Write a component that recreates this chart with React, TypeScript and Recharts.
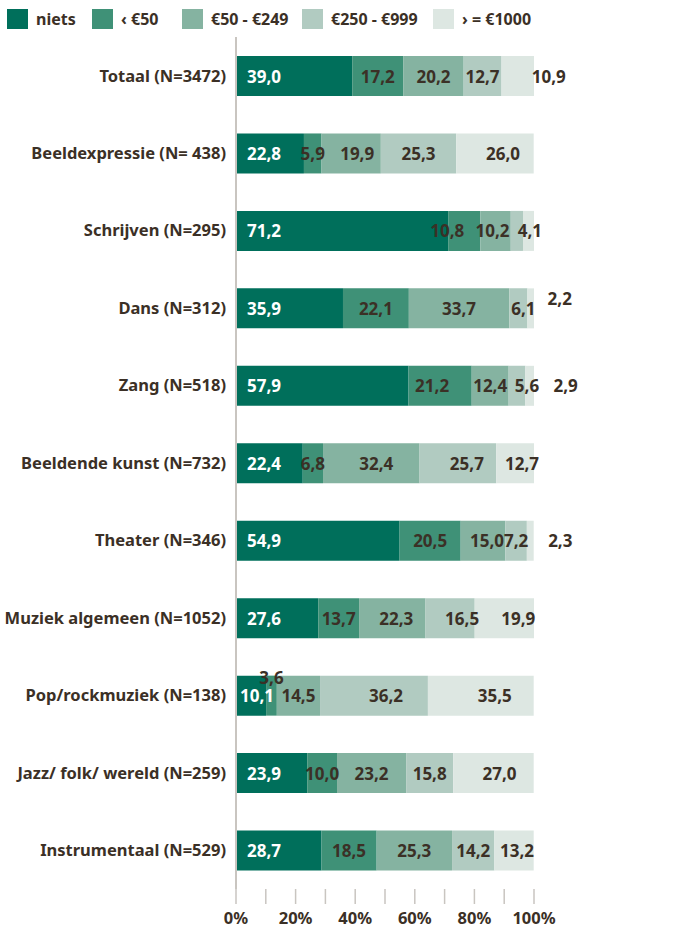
import { Bar, BarChart, LabelList, XAxis, YAxis } from 'recharts';

const categories = [
  'Totaal (N=3472)',
  'Beeldexpressie (N= 438)',
  'Schrijven (N=295)',
  'Dans (N=312)',
  'Zang (N=518)',
  'Beeldende kunst (N=732)',
  'Theater (N=346)',
  'Muziek algemeen (N=1052)',
  'Pop/rockmuziek (N=138)',
  'Jazz/ folk/ wereld (N=259)',
  'Instrumentaal (N=529)',
];

const niets = [39.0, 22.8, 71.2, 35.9, 57.9, 22.4, 54.9, 27.6, 10.1, 23.9, 28.7];
const under50 = [17.2, 5.9, 10.8, 22.1, 21.2, 6.8, 20.5, 13.7, 3.6, 10.0, 18.5];
const from50 = [20.2, 19.9, 10.2, 33.7, 12.4, 32.4, 15.0, 22.3, 14.5, 23.2, 25.3];
const from250 = [12.7, 25.3, 4.1, 6.1, 5.6, 25.7, 7.2, 16.5, 36.2, 15.8, 14.2];
const from1000 = [10.9, 26.0, 3.7, 2.2, 2.9, 12.7, 2.3, 19.9, 35.5, 27.0, 13.2];

const xTicks = [0, 10, 20, 30, 40, 50, 60, 70, 80, 90, 100];

const series = [
  { key: 'niets', label: 'niets', color: '#006f5b', values: niets },
  { key: 'under50', label: '‹ €50', color: '#3f9177', values: under50 },
  { key: 'from50', label: '€50 - €249', color: '#85b3a1', values: from50 },
  { key: 'from250', label: '€250 - €999', color: '#b1cbc1', values: from250 },
  { key: 'from1000', label: '› = €1000', color: '#dde7e2', values: from1000 },
];

const legendX = [7, 92, 182, 302, 433];

// manual label nudges, like the hand-placed labels in the original
const labelShift: Record<string, { dx?: number; dy?: number; hide?: boolean }> = {
  '0-4': { dx: 31 },
  '1-2': { dx: 6 },
  '1-4': { dx: 8 },
  '2-1': { dx: -17 },
  '2-2': { dx: -3 },
  '2-3': { dx: 13 },
  '2-4': { hide: true },
  '3-3': { dx: 5 },
  '3-4': { dx: 29, dy: -10 },
  '4-1': { dx: -8 },
  '4-3': { dx: 10 },
  '4-4': { dx: 36 },
  '5-2': { dx: 5 },
  '5-3': { dx: 9 },
  '5-4': { dx: 7 },
  '6-2': { dx: 4 },
  '6-4': { dx: 30 },
  '7-2': { dx: 4 },
  '7-3': { dx: 12 },
  '7-4': { dx: 14 },
  '8-0': { dx: -7 },
  '8-1': { dy: -18 },
  '8-3': { dx: 12 },
  '8-4': { dx: 14 },
  '9-4': { dx: 6 },
  '10-4': { dx: 3 },
};

const FONT = '"Noto Sans", sans-serif';
const TEXT = '#3b3026';
const AXIS = '#c9c5c0';

const data = categories.map((name, i) => {
  const row: Record<string, string | number> = { name };
  series.forEach((s) => {
    row[s.key] = s.values[i];
  });
  return row;
});

const fmt = (v: number) => v.toFixed(1).replace('.', ',');

function makeLabel(si: number) {
  return (props: any) => {
    const { x, y, width, height, value, index } = props;
    const shift = labelShift[`${index}-${si}`] || {};
    if (shift.hide) return null;
    const cy = Number(y) + Number(height) / 2 + (shift.dy || 0);
    const inside = si === 0;
    return (
      <text
        x={inside ? Number(x) + 11 + (shift.dx || 0) : Number(x) + Number(width) / 2 + (shift.dx || 0)}
        y={cy}
        textAnchor={inside ? 'start' : 'middle'}
        dominantBaseline="central"
        fill={inside ? '#ffffff' : TEXT}
        fontSize={17}
        fontWeight="bold"
        fontFamily={FONT}
      >
        {fmt(Number(value))}
      </text>
    );
  };
}

export default function App() {
  return (
    <div style={{ position: 'absolute', left: 0, top: 0, width: 698, height: 928, background: '#fff' }}>
      {series.map((s, i) => (
        <div key={s.key} style={{ position: 'absolute', left: legendX[i], top: 9, display: 'flex', alignItems: 'center' }}>
          <div style={{ width: 21, height: 20, background: s.color }} />
          <span
            style={{
              marginLeft: 8,
              fontFamily: FONT,
              fontWeight: 'bold',
              fontSize: 16,
              color: TEXT,
              lineHeight: '20px',
            }}
          >
            {s.label}
          </span>
        </div>
      ))}
      <BarChart
        width={698}
        height={928}
        data={data}
        layout="vertical"
        margin={{ top: 37, right: 164, bottom: 0, left: 0 }}
        barSize={40}
      >
        <XAxis
          type="number"
          domain={[0, 100]}
          ticks={xTicks}
          interval={0}
          height={39}
          axisLine={false}
          tickSize={15}
          tickMargin={8}
          tickLine={{ stroke: AXIS, strokeWidth: 1.5 }}
          tickFormatter={(v: number) => (v % 20 === 0 ? `${v}%` : '')}
          tick={{ fill: TEXT, fontSize: 16.5, fontWeight: 'bold', fontFamily: FONT }}
        />
        <YAxis
          type="category"
          dataKey="name"
          width={236}
          interval={0}
          tickLine={false}
          tickMargin={4}
          axisLine={{ stroke: AXIS, strokeWidth: 2 }}
          tick={{ fill: TEXT, fontSize: 16.5, fontWeight: 'bold', fontFamily: FONT }}
        />
        {series.map((s, si) => (
          <Bar key={s.key} dataKey={s.key} stackId="a" fill={s.color} isAnimationActive={false}>
            <LabelList dataKey={s.key} content={makeLabel(si)} />
          </Bar>
        ))}
      </BarChart>
    </div>
  );
}
